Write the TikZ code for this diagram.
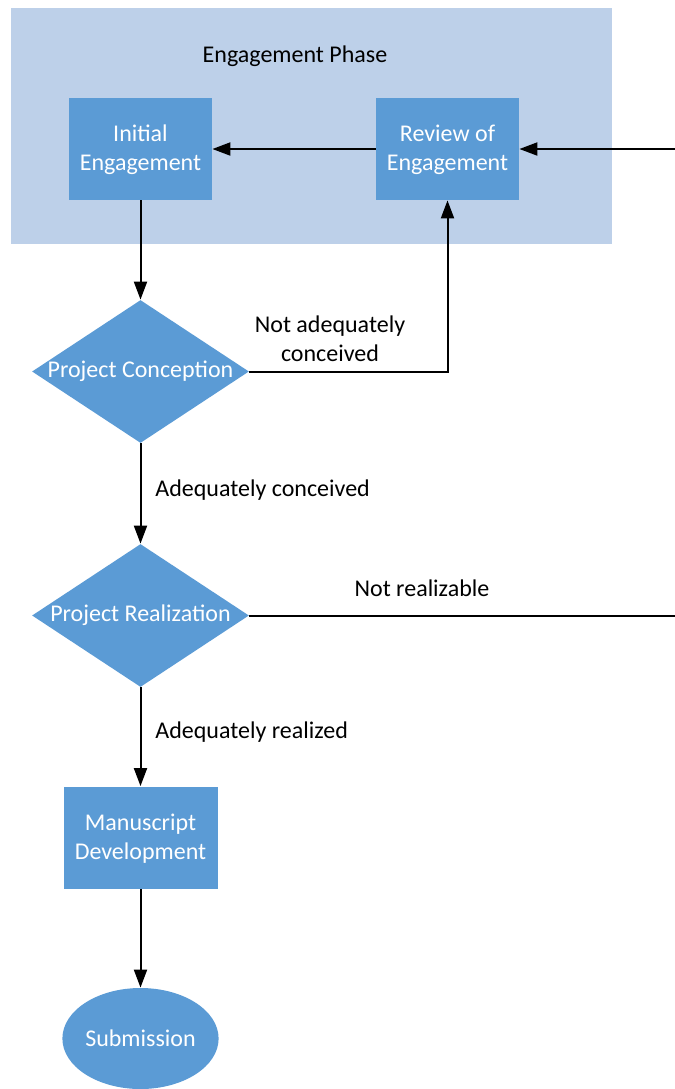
\documentclass[tikz,border=0pt]{standalone}
\usepackage{fontspec}
\setmainfont{Carlito}
\usetikzlibrary{shapes.geometric,arrows.meta,positioning,calc}
\definecolor{boxblue}{RGB}{91,155,213}
\definecolor{phaseblue}{RGB}{189,208,233}
\begin{document}
\begin{tikzpicture}[x=0.5pt,y=-0.5pt,
        font=\fontsize{12}{14.5}\selectfont,
        stepbox/.style={rectangle,fill=boxblue,text=white,align=center,
            minimum width=71.5pt,minimum height=51pt,inner sep=0pt},
        decision/.style={diamond,fill=boxblue,text=white,
            minimum width=108.5pt,minimum height=71.5pt,inner sep=0pt},
        terminal/.style={ellipse,fill=boxblue,text=white,
            minimum width=77pt,minimum height=50.5pt,inner sep=0pt},
        flow/.style={line width=1pt,-{Triangle[length=9pt,width=6.5pt]}},
        tag/.style={text=black,align=center,inner sep=0pt}]
        \useasboundingbox (0,0) rectangle (675,1089);
        % Engagement phase
        \fill [phaseblue] (11,8) rectangle (612,244);
        \node (phase) [tag] at (295,56) {Engagement Phase};
        \node (init) [stepbox,text depth=1pt] at (140.5,149) {Initial\\Engagement};
        \node (review) [stepbox,text depth=1pt] at (447.5,149) {Review of\\Engagement};
        % Decisions and the rest
        \node (conc) [decision] at (140.5,371.5) {\makebox[0pt]{Project Conception}};
        \node (real) [decision] at (140.5,615.5) {\makebox[0pt]{Project Realization}};
        \node (manu) [stepbox,minimum width=77pt,text depth=1pt] at (140.5,837.5) {Manuscript\\Development};
        \node (subm) [terminal] at (140.5,1038.5) {Submission};
        % Labels
        \node (notconc) [tag] at (330,339) {Not adequately\\conceived};
        \node (adconc) [tag,anchor=west] at (155,490) {Adequately conceived};
        \node (notreal) [tag] at (422,588) {Not realizable};
        \node (adreal) [tag,anchor=west] at (155,732) {Adequately realized};
        % Connectors
        \coordinate (turn) at (690,0);
        \draw [flow] (review) -- (init);
        \draw [flow] (init) -- (conc);
        \draw [flow] (conc.east) -| (review.south);
        \draw [flow] (conc) -- (real);
        \draw [flow] (real.east) -- (real.east -| turn) |- (review.east);
        \draw [flow] (real) -- (manu);
        \draw [flow] (manu) -- (subm);
    \end{tikzpicture}
\end{document}
